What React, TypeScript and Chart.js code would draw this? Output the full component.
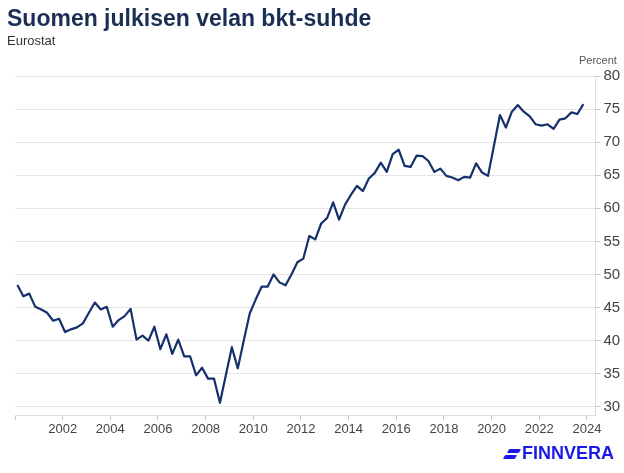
import { useEffect, useRef } from 'react';
import { Chart, registerables } from 'chart.js';

Chart.register(...registerables);

// Quarterly general government debt, % of GDP (2000Q1 .. 2023Q4)
const startYear = 2000;
const quarterlyValues = [
  48.4, 46.7, 47.1, 45.1,
  44.7, 44.2, 43.0, 43.3,
  41.3, 41.7, 42.0, 42.6,
  44.2, 45.75, 44.7, 45.1,
  42.1, 43.1, 43.7, 44.8,
  40.15, 40.75, 40.0, 42.1,
  38.7, 40.95, 38.0, 40.15,
  37.6, 37.6, 34.75, 35.9,
  34.25, 34.25, 30.6, 34.8,
  39.0, 35.8, 40.0, 44.1,
  46.2, 48.15, 48.15, 50.0,
  48.8, 48.35, 50.0, 51.85,
  52.4, 55.8, 55.3, 57.7,
  58.55, 60.9, 58.3, 60.55,
  62.05, 63.4, 62.6, 64.5,
  65.35, 66.9, 65.5, 68.2,
  68.85, 66.4, 66.25, 67.95,
  67.9, 67.15, 65.5, 66.0,
  64.9, 64.65, 64.25, 64.75,
  64.65, 66.8, 65.4, 64.9,
  69.5, 74.1, 72.2, 74.6,
  75.6, 74.6, 73.9, 72.7,
  72.5, 72.7, 72.0, 73.4,
  73.6, 74.5, 74.25, 75.75,
];
const xMin = 2000;
const xMax = 2024.36;
const xStep = 2;
const hiddenXTick = 2000;
const yMin = 28.75;
const yMax = 80;
const yStep = 5;

const titleText = 'Suomen julkisen velan bkt-suhde';
const subtitleText = 'Eurostat';
const unitText = 'Percent';
const logoText = 'FINNVERA';

const FONT = '"Liberation Sans", Arial, Helvetica, sans-serif';

export default function App() {
  const ref = useRef<HTMLCanvasElement>(null);

  useEffect(() => {
    document.body.style.margin = '0';
    const points = quarterlyValues.map((v, i) => ({ x: startYear + i / 4 + 0.1, y: v }));
    const chart = new Chart(ref.current as HTMLCanvasElement, {
      type: 'line',
      data: {
        datasets: [
          {
            data: points,
            borderColor: '#14316b',
            borderWidth: 2.2,
            pointRadius: 0,
            tension: 0,
            fill: false,
            borderJoinStyle: 'round',
          },
        ],
      },
      options: {
        animation: false,
        responsive: false,
        maintainAspectRatio: false,
        layout: { padding: { left: 15, top: 76, right: 0, bottom: 0 } },
        plugins: { legend: { display: false }, tooltip: { enabled: false } },
        scales: {
          x: {
            type: 'linear',
            min: xMin,
            max: xMax,
            ticks: {
              stepSize: xStep,
              includeBounds: false,
              autoSkip: false,
              maxRotation: 0,
              callback: (v: any) => (v === hiddenXTick ? '' : String(v)),
              font: { family: FONT, size: 13 },
              color: '#444',
              padding: 2,
            },
            grid: { drawOnChartArea: false, drawTicks: true, tickLength: 5, tickColor: '#c8c8c8' },
            border: { display: true, color: '#dcdcdc' },
            afterFit: (s: any) => {
              s.height = 58;
            },
          },
          y: {
            position: 'right',
            min: yMin,
            max: yMax,
            ticks: {
              stepSize: yStep,
              includeBounds: false,
              font: { family: FONT, size: 15 },
              color: '#444',
              padding: 3,
            },
            grid: { color: '#e6e6e6', tickLength: 5, tickColor: '#c8c8c8' },
            border: { display: true, color: '#dcdcdc' },
            afterFit: (s: any) => {
              s.width = 28.5;
            },
          },
        },
      },
    } as any);
    return () => chart.destroy();
  }, []);

  return (
    <div style={{ position: 'relative', width: 624, height: 473, background: '#fff', fontFamily: FONT, overflow: 'hidden' }}>
      <canvas ref={ref} width={624} height={473} style={{ display: 'block', position: 'absolute', left: 0, top: 0 }} />
      <div style={{ position: 'absolute', left: 7, top: 5, fontSize: 23, fontWeight: 'bold', color: '#1b2f55', whiteSpace: 'nowrap' }}>
        {titleText}
      </div>
      <div style={{ position: 'absolute', left: 7, top: 33, fontSize: 13, color: '#333', whiteSpace: 'nowrap' }}>
        {subtitleText}
      </div>
      <div style={{ position: 'absolute', left: 579, top: 54, fontSize: 11, color: '#555', whiteSpace: 'nowrap' }}>
        {unitText}
      </div>
      <div style={{ position: 'absolute', left: 503, top: 443, height: 20, display: 'flex', alignItems: 'center' }}>
        <div style={{ position: 'relative', width: 18, height: 14 }}>
          <div style={{ position: 'absolute', left: 5, top: 3, width: 12, height: 4, background: '#1a1ae6', transform: 'skewX(-30deg)', borderRadius: 1 }} />
          <div style={{ position: 'absolute', left: 1, top: 8.5, width: 12, height: 4, background: '#1a1ae6', transform: 'skewX(-30deg)', borderRadius: 1 }} />
        </div>
        <div style={{ fontSize: 18, fontWeight: 'bold', color: '#1a1ae6', marginLeft: 1, lineHeight: '20px', whiteSpace: 'nowrap' }}>
          {logoText}
        </div>
      </div>
    </div>
  );
}
